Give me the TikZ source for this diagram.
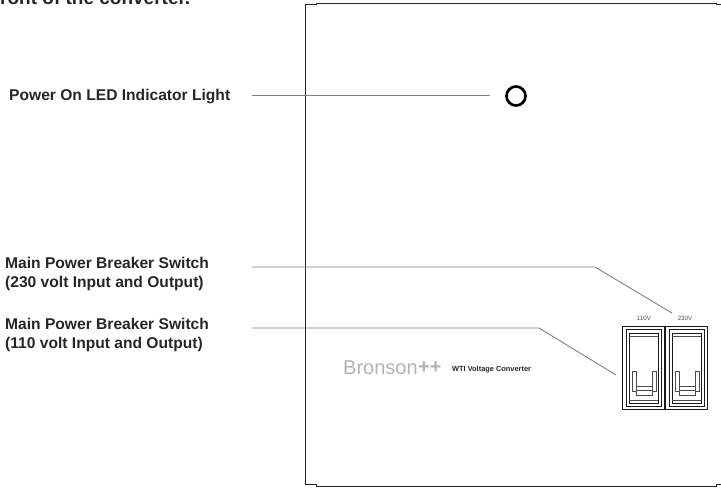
\documentclass[tikz,border=0pt]{standalone}
\usepackage{fontspec}
\setmainfont{Liberation Sans}
\begin{document}
\begin{tikzpicture}[x=1pt, y=-1pt, every node/.style={font=\fontsize{15.6}{19}\selectfont\bfseries, inner sep=0pt, text=black!85},
	lab/.style={anchor=west, align=left},
	leader/.style={draw=black!50, line width=0.9pt},
	sw/.style={draw=black!90, line width=0.9pt},
	swthin/.style={draw=black!70, line width=0.6pt},
	tag/.style={font=\fontsize{6.2}{7}\selectfont, text=black!70}]
	\useasboundingbox (0,0) rectangle (721,488);
	\node[font=\fontsize{19}{21}\selectfont\bfseries, anchor=base west] (head) at (0,4) {ront of the converter.};
	\draw[line width=1pt, black!85] (305,484) -- (305,4.5) -- (316,4.5) -- (316,3) -- (716,3) -- (716,4.7) -- (721,4.7);
	\draw[line width=1pt, black!85] (305,484) -- (316,484) -- (316,486) -- (716,486) -- (716,484) -- (721,484);
	\node[lab] (led) at (9,96.5) {Power On LED Indicator Light};
	\node[lab] (main230) at (5,274) {Main Power Breaker Switch\\(230 volt Input and Output)};
	\node[lab] (main110) at (5,335) {Main Power Breaker Switch\\(110 volt Input and Output)};
	\node[draw=black, circle, line width=2.7pt, minimum size=19pt] (light) at (516,96) {};
	\coordinate (end230) at (672,313);
	\coordinate (end110) at (616,375);
	\draw[leader] (252,95) -- (490,95);
	\draw[leader] (252,267) -- (595,267) -- (end230);
	\draw[leader] (252,328) -- (539,328) -- (end110);
	\node[tag] (t110) at (644,318) {110V};
	\node[tag] (t230) at (685,318) {230V};
	\foreach \xo in {622,665}{
		\draw[sw] (\xo,326) rectangle (\xo+42,409);
		\draw[sw] (\xo+4,329) rectangle (\xo+39,406);
		\draw[sw] (\xo+7,333) rectangle (\xo+36,403);
		\draw[swthin] (\xo+7,336) -- (\xo+36,336) (\xo+7,400) -- (\xo+36,400);
		\draw[swthin] (\xo+10,371) rectangle (\xo+14,391);
		\draw[swthin] (\xo+30,371) rectangle (\xo+34,391);
		\draw[swthin] (\xo+14,386) rectangle (\xo+30,395);
		\draw[swthin] (\xo+14,390) -- (\xo+30,390);
	}
	\node[anchor=west, font=\fontsize{20}{22}\selectfont, text=black!30] (brand) at (343,368) {Bronson};
	\node[anchor=west, font=\fontsize{20}{22}\selectfont\bfseries, text=black!30] (plus) at (418,368) {++};
	\node[anchor=west, font=\fontsize{7.4}{8}\selectfont\bfseries] (model) at (452,370) {WTI Voltage Converter};
\end{tikzpicture}
\end{document}
